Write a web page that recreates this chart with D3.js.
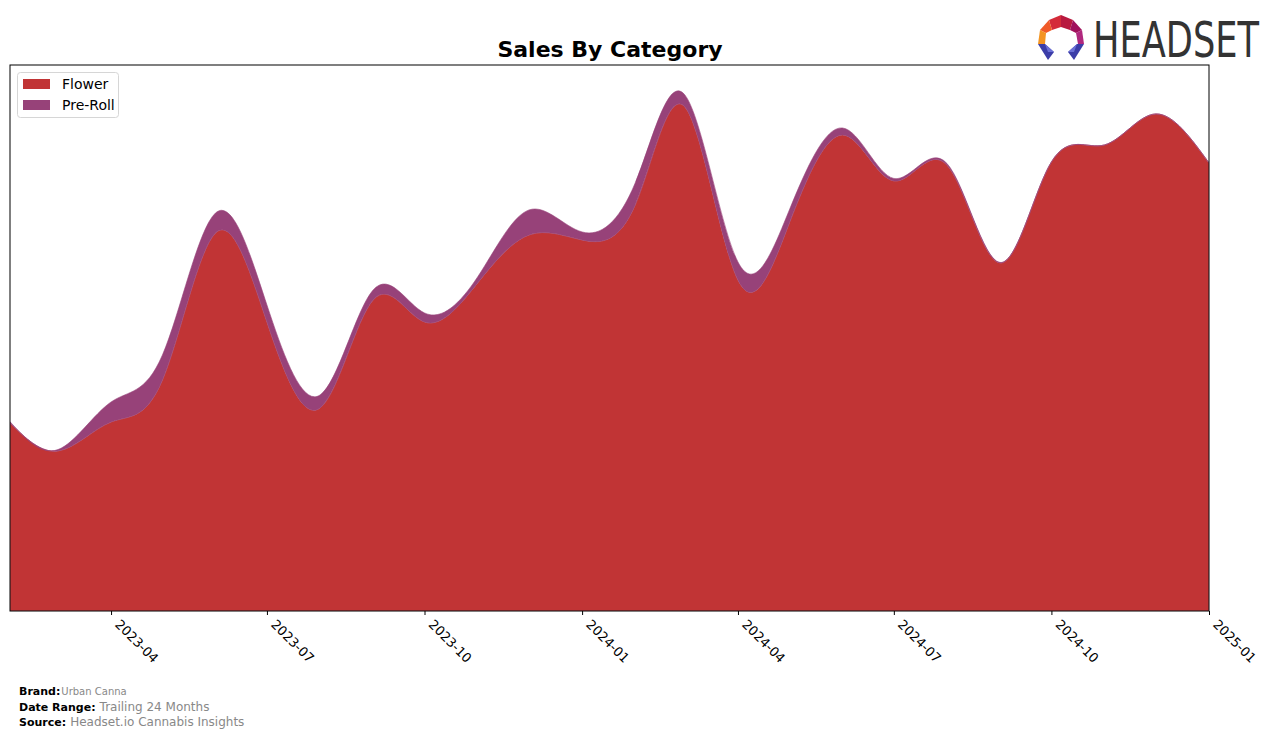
<!DOCTYPE html>
<html>
<head>
<meta charset="utf-8">
<script src="https://cdn.jsdelivr.net/npm/d3@7"></script>
<style>
  html, body { margin: 0; padding: 0; background: #fff; }
  svg { display: block; font-family: "DejaVu Sans", sans-serif; }
</style>
</head>
<body>
<svg id="chart" width="1276" height="739"></svg>
<script>
// ---- data ----
const months = ["2023-02","2023-03","2023-04","2023-05","2023-06","2023-07","2023-08","2023-09",
  "2023-10","2023-11","2023-12","2024-01","2024-02","2024-03","2024-04","2024-05","2024-06",
  "2024-07","2024-08","2024-09","2024-10","2024-11","2024-12","2025-01"];
const flower = [188, 160, 189, 231, 378, 289, 203, 311, 289, 328, 376, 371, 406, 504, 331, 388,
  476, 430, 446, 348, 449, 466, 497, 448];
const preRoll = [1.3, 1.4, 20, 25, 20, 17, 13, 10, 9, 6, 25, 8, 22, 12, 18, 13, 7, 2.5, 1.5, 0.5,
  0, 0, 0, 0];
const seriesNames = ["Flower", "Pre-Roll"];
const seriesColors = ["#c13435", "#974279"];
const tickLabels = ["2023-04","2023-07","2023-10","2024-01","2024-04","2024-07","2024-10","2025-01"];

(function () {
// ---- layout ----
const svg = d3.select("#chart");
const pL = 10, pR = 1209, pT = 65, pB = 611;
const parse = d3.timeParse("%Y-%m");

const rows = months.map((m, i) => ({date: parse(m), Flower: flower[i], "Pre-Roll": preRoll[i]}));
const stack = d3.stack().keys(seriesNames)(rows);
const maxTotal = d3.max(rows, r => r.Flower + r["Pre-Roll"]);

const x = d3.scaleTime().domain([parse(months[0]), parse(months[months.length - 1])]).range([pL, pR]);
const y = d3.scaleLinear().domain([0, maxTotal * 1.058]).range([pB, pT]);

const area = d3.area()
  .x(d => x(d.data.date))
  .y0(d => y(d[0]))
  .y1(d => y(d[1]))
  .curve(d3.curveNatural);

// title
svg.append("text").attr("x", 610).attr("y", 57).attr("text-anchor", "middle")
  .attr("font-size", 22).attr("font-weight", "bold").attr("fill", "#000").text("Sales By Category");

const g = svg.append("g");
g.append("clipPath").attr("id", "clip").append("rect")
  .attr("x", pL).attr("y", pT).attr("width", pR - pL).attr("height", pB - pT);

const plot = g.append("g").attr("clip-path", "url(#clip)");
plot.selectAll("path.layer").data(stack).join("path")
  .attr("class", "layer")
  .attr("d", area)
  .attr("fill", (d, i) => seriesColors[i])
  .attr("stroke", (d, i) => i === 0 ? "#d0707a" : seriesColors[i])
  .attr("stroke-width", 0.6);

// axis
const xAxis = d3.axisBottom(x)
  .tickValues(tickLabels.map(parse))
  .tickFormat(d3.timeFormat("%Y-%m"))
  .tickSize(4).tickSizeOuter(0);
const ax = svg.append("g").attr("transform", `translate(0,${pB})`).call(xAxis);
ax.select(".domain").remove();
ax.selectAll(".tick line").attr("stroke", "#000");
ax.selectAll(".tick text")
  .attr("font-family", "DejaVu Sans, sans-serif")
  .attr("font-size", 13).attr("fill", "#000")
  .attr("text-anchor", "start")
  .attr("transform", "translate(6,11) rotate(45)")
  .attr("dy", "0.35em").attr("y", 0).attr("x", 0);

// frame
svg.append("rect").attr("x", pL).attr("y", pT).attr("width", pR - pL).attr("height", pB - pT)
  .attr("fill", "none").attr("stroke", "#000").attr("stroke-width", 1);

// legend
const lg = svg.append("g");
lg.append("rect").attr("x", 17.5).attr("y", 72.5).attr("width", 101).attr("height", 45).attr("rx", 3)
  .attr("fill", "#fff").attr("fill-opacity", 0.8).attr("stroke", "#d6d6d6");
seriesNames.forEach((n, i) => {
  lg.append("rect").attr("x", 23).attr("y", 79 + i * 21).attr("width", 27).attr("height", 10)
    .attr("fill", seriesColors[i]);
  lg.append("text").attr("x", 62).attr("y", 89 + i * 21).attr("font-size", 14).attr("fill", "#000").text(n);
});

// footer
const foot = [["Brand:", "Urban Canna", 695, 11], ["Date Range:", "Trailing 24 Months", 711, 13], ["Source:", "Headset.io Cannabis Insights", 726, 13]];
foot.forEach(([k, v, yy, fs]) => {
  const t = svg.append("text").attr("x", 19).attr("y", yy).attr("font-size", 11);
  t.append("tspan").attr("font-weight", "bold").attr("fill", "#000").text(k);
  t.append("tspan").attr("fill", "#888").attr("font-size", fs - 1).attr("dx", k === "Brand:" ? 1 : 4).text(v);
});

// logo
const logo = svg.append("g");
const polys = [
  {p: [[1049,20],[1061,15],[1061,27],[1052,30]], c: "#d42b3a"},
  {p: [[1061,15],[1073,20],[1070,30],[1061,27]], c: "#b8193f"},
  {p: [[1073,20],[1082,30],[1076,33],[1070,30]], c: "#a0115c"},
  {p: [[1082,30],[1084,44],[1078,44],[1076,33]], c: "#b0287e"},
  {p: [[1040,30],[1049,20],[1052,30],[1046,33]], c: "#f05a28"},
  {p: [[1038,44],[1040,30],[1046,33],[1045,44]], c: "#f39422"},
  {p: [[1038,44],[1045,44],[1054,52],[1048,60]], c: "#3b3da8"},
  {p: [[1084,44],[1077,44],[1068,52],[1074,60]], c: "#3b3da8"},
  {p: [[1045,44],[1054,52],[1048,52]], c: "#6a6fd6"},
  {p: [[1077,44],[1068,52],[1074,52]], c: "#6a6fd6"}
];
polys.forEach(o => logo.append("polygon").attr("points", o.p.map(q => q.join(",")).join(" ")).attr("fill", o.c));
logo.append("g").attr("transform", "translate(1093,57) scale(1,1.4)")
  .append("text").attr("x", 0).attr("y", 0).attr("font-family", "DejaVu Sans Condensed, DejaVu Sans, sans-serif")
  .attr("font-size", 36).attr("fill", "#333").attr("textLength", 166).attr("lengthAdjust", "spacingAndGlyphs").text("HEADSET");
})();
</script>
</body>
</html>
